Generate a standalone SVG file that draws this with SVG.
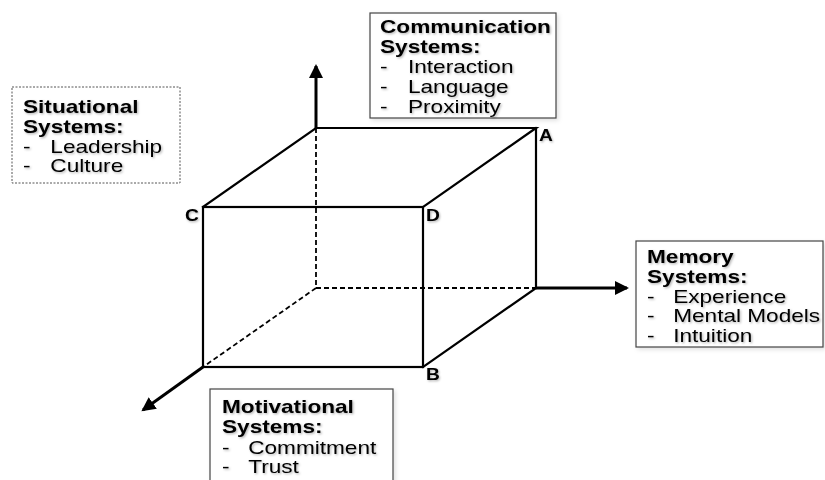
<svg xmlns="http://www.w3.org/2000/svg" width="825" height="480" viewBox="0 0 825 480">
  <style>
    .edge { fill: none; stroke: #000; stroke-width: 2.2; stroke-linecap: square; }
    .hidden { fill: none; stroke: #000; stroke-width: 1.8; stroke-dasharray: 5 3; }
    .axis { fill: none; stroke: #000; stroke-width: 3; }
    .box { fill: #fff; stroke: #444; stroke-width: 1.2; }
    .box-dotted { fill: #fff; stroke: #555; stroke-width: 1; stroke-dasharray: 2 1.5; }
    .title { font-family: "Liberation Sans", Arial, sans-serif; font-size: 19px; font-weight: bold; fill: #000; }
    .item { font-family: "Liberation Sans", Arial, sans-serif; font-size: 19px; fill: #000; }
    .corner { font-family: "Liberation Sans", Arial, sans-serif; font-size: 16px; font-weight: bold; fill: #000; }
  </style>
  <defs>
    <marker id="arrow" markerUnits="userSpaceOnUse" markerWidth="16" markerHeight="16" refX="12" refY="7" orient="auto">
      <path d="M0,0 L14,7 L0,14 Z" fill="#000"/>
    </marker>
    <filter id="soft" x="-10%" y="-10%" width="130%" height="140%">
      <feDropShadow dx="1" dy="1.2" stdDeviation="0.9" flood-color="#000" flood-opacity="0.3"/>
    </filter>
    <filter id="boxshadow" x="-10%" y="-10%" width="130%" height="130%">
      <feDropShadow dx="2" dy="2" stdDeviation="2" flood-color="#000" flood-opacity="0.12"/>
    </filter>
  </defs>

  <rect width="825" height="480" fill="#fff"/>

  <!-- cube and axes -->
  <g id="connectors">
    <!-- hidden edges -->
    <line class="hidden" x1="316" y1="128" x2="316" y2="288"/>
    <line class="hidden" x1="316" y1="288" x2="536" y2="288"/>
    <line class="hidden" x1="316" y1="288" x2="203" y2="367"/>
    <!-- visible edges -->
    <polyline class="edge" points="203,207 316,128 536,128 423,207"/>
    <line class="edge" x1="536" y1="128" x2="536" y2="288"/>
    <line class="edge" x1="536" y1="288" x2="423" y2="367"/>
    <rect class="edge" x="203" y="207" width="220" height="160"/>
    <!-- axes -->
    <line class="axis" x1="316" y1="128" x2="316" y2="66" marker-end="url(#arrow)"/>
    <line class="axis" x1="536" y1="288" x2="627" y2="288" marker-end="url(#arrow)"/>
    <line class="axis" x1="203" y1="367" x2="143" y2="410" marker-end="url(#arrow)"/>
  </g>

  <!-- corner labels -->
  <g id="corner-labels" filter="url(#soft)">
    <text class="corner" transform="translate(539,141) scale(1.2,1)">A</text>
    <text class="corner" transform="translate(426,380) scale(1.2,1)">B</text>
    <text class="corner" transform="translate(185,221) scale(1.2,1)">C</text>
    <text class="corner" transform="translate(426,221) scale(1.2,1)">D</text>
  </g>

  <g id="situational">
    <rect class="box-dotted" x="12" y="87" width="168" height="96"/>
    <g transform="translate(23,0) scale(1.19,1)" filter="url(#soft)">
      <text class="title" x="0" y="113">Situational</text>
      <text class="title" x="0" y="133">Systems:</text>
      <text class="item" x="0" y="153">-</text>
      <text class="item" x="23" y="153">Leadership</text>
      <text class="item" x="0" y="172">-</text>
      <text class="item" x="23" y="172">Culture</text>
    </g>
  </g>

  <g id="communication">
    <rect class="box" x="370" y="13" width="186" height="105" filter="url(#boxshadow)"/>
    <g transform="translate(380,0) scale(1.19,1)" filter="url(#soft)">
      <text class="title" x="0" y="33">Communication</text>
      <text class="title" x="0" y="53">Systems:</text>
      <text class="item" x="0" y="73">-</text>
      <text class="item" x="23.5" y="73">Interaction</text>
      <text class="item" x="0" y="93">-</text>
      <text class="item" x="23.5" y="93">Language</text>
      <text class="item" x="0" y="113">-</text>
      <text class="item" x="23.5" y="113">Proximity</text>
    </g>
  </g>

  <g id="memory">
    <rect class="box" x="636" y="241" width="187" height="106" filter="url(#boxshadow)"/>
    <g transform="translate(647,0) scale(1.19,1)" filter="url(#soft)">
      <text class="title" x="0" y="263">Memory</text>
      <text class="title" x="0" y="283">Systems:</text>
      <text class="item" x="0" y="303">-</text>
      <text class="item" x="22" y="303">Experience</text>
      <text class="item" x="0" y="322">-</text>
      <text class="item" x="22" y="322">Mental Models</text>
      <text class="item" x="0" y="342">-</text>
      <text class="item" x="22" y="342">Intuition</text>
    </g>
  </g>

  <g id="motivational">
    <rect class="box" x="210" y="389" width="183" height="100" filter="url(#boxshadow)"/>
    <g transform="translate(222,0) scale(1.19,1)" filter="url(#soft)">
      <text class="title" x="0" y="413">Motivational</text>
      <text class="title" x="0" y="433">Systems:</text>
      <text class="item" x="0" y="454">-</text>
      <text class="item" x="22" y="454">Commitment</text>
      <text class="item" x="0" y="473">-</text>
      <text class="item" x="22" y="473">Trust</text>
    </g>
  </g>
</svg>
